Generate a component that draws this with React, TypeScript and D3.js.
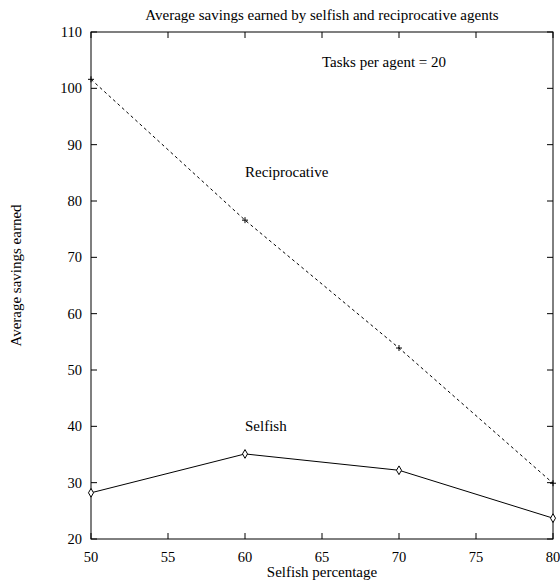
import React, { useEffect, useRef } from 'react';
import * as d3 from 'd3';

const percentages = [50, 60, 70, 80];
const reciprocative = [101.6, 76.6, 53.9, 29.9];
const selfish = [28.2, 35.1, 32.2, 23.7];
const xTicks = [50, 55, 60, 65, 70, 75, 80];
const yTicks = [20, 30, 40, 50, 60, 70, 80, 90, 100, 110];

const W = 560;
const H = 585;
const margin = { top: 32, right: 7, bottom: 46, left: 91 };
const font = '"Liberation Serif", "Times New Roman", serif';

export default function App() {
  const ref = useRef<SVGSVGElement>(null);

  useEffect(() => {
    const svg = d3.select(ref.current);
    svg.selectAll('*').remove();

    const x = d3.scaleLinear().domain([50, 80]).range([margin.left, W - margin.right]);
    const y = d3.scaleLinear().domain([20, 110]).range([H - margin.bottom, margin.top]);
    const tick = 6;

    const g = svg.append('g').attr('fill', 'none').attr('stroke', '#000').attr('stroke-width', 1);

    // frame
    g.append('rect')
      .attr('x', x(50))
      .attr('y', y(110))
      .attr('width', x(80) - x(50))
      .attr('height', y(20) - y(110));

    // inward ticks on all four sides
    xTicks.forEach(t => {
      g.append('line').attr('x1', x(t)).attr('x2', x(t)).attr('y1', y(20)).attr('y2', y(20) - tick);
      g.append('line').attr('x1', x(t)).attr('x2', x(t)).attr('y1', y(110)).attr('y2', y(110) + tick);
    });
    yTicks.forEach(t => {
      g.append('line').attr('x1', x(50)).attr('x2', x(50) + tick).attr('y1', y(t)).attr('y2', y(t));
      g.append('line').attr('x1', x(80)).attr('x2', x(80) - tick).attr('y1', y(t)).attr('y2', y(t));
    });

    const text = svg.append('g').attr('font-family', font).attr('font-size', 15).attr('fill', '#000');

    xTicks.forEach(t => {
      text.append('text').attr('x', x(t)).attr('y', 562).attr('font-size', 14.5)
        .attr('text-anchor', 'middle').text(t);
    });
    yTicks.forEach(t => {
      text.append('text').attr('x', x(50) - 9).attr('y', y(t)).attr('dy', '0.35em')
        .attr('font-size', 14.5).attr('text-anchor', 'end').text(t);
    });

    text.append('text').attr('x', (x(50) + x(80)) / 2).attr('y', 20)
      .attr('text-anchor', 'middle')
      .text('Average savings earned by selfish and reciprocative agents');
    text.append('text').attr('x', (x(50) + x(80)) / 2).attr('y', 577)
      .attr('text-anchor', 'middle').text('Selfish percentage');
    text.append('text')
      .attr('transform', `translate(21,${(y(20) + y(110)) / 2 - 10}) rotate(-90)`)
      .attr('text-anchor', 'middle').text('Average savings earned');

    text.append('text').attr('x', x(65)).attr('y', y(103.8)).text('Tasks per agent = 20');
    text.append('text').attr('x', x(60)).attr('y', y(84.2)).text('Reciprocative');
    text.append('text').attr('x', x(60)).attr('y', y(39.1)).text('Selfish');

    const line = d3.line<number>().x((_, i) => x(percentages[i])).y(d => y(d));

    g.append('path').attr('d', line(reciprocative)).attr('stroke-dasharray', '3,3');
    g.append('path').attr('d', line(selfish));

    // plus markers
    reciprocative.forEach((v, i) => {
      const cx = x(percentages[i]);
      const cy = y(v);
      g.append('path').attr('d', `M${cx - 3},${cy}H${cx + 3}M${cx},${cy - 3}V${cy + 3}`);
    });

    const diamond = d3.symbol().type(d3.symbolDiamond).size(22);
    selfish.forEach((v, i) => {
      g.append('path')
        .attr('transform', `translate(${x(percentages[i])},${y(v)})`)
        .attr('d', diamond())
        .attr('fill', '#fff');
    });
  }, []);

  return (
    <svg
      ref={ref}
      width={W}
      height={H}
      style={{ display: 'block', position: 'absolute', left: 0, top: 0 }}
    />
  );
}
